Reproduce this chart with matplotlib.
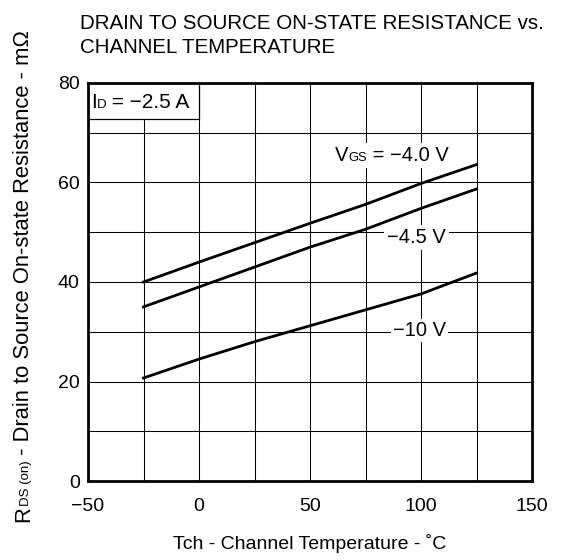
import matplotlib
matplotlib.use('Agg')
import matplotlib.pyplot as plt
from matplotlib.patches import Rectangle
from matplotlib.transforms import offset_copy

plt.rcParams['font.family'] = ['Liberation Sans', 'DejaVu Sans']

# channel temperature (deg C) and RDS(on) in mOhm
temp = [-25, 0, 25, 50, 75, 100, 125]
r_vgs_40 = [40.0, 44.0, 47.9, 51.8, 55.6, 59.8, 63.6]
r_vgs_45 = [35.0, 39.0, 43.0, 47.0, 50.6, 54.8, 58.7]
r_vgs_10 = [20.7, 24.5, 28.0, 31.2, 34.4, 37.6, 41.8]

x_ticks = [-50, 0, 50, 100, 150]
y_ticks = [0, 20, 40, 60, 80]
x_grid = [-25, 25, 75, 125]
y_grid = [10, 30, 50, 70]

fig = plt.figure(figsize=(5.61, 5.59), dpi=100)
ax = fig.add_axes([88 / 561, 78 / 559, 444 / 561, 398 / 559])
ax.set_xlim(-50, 150)
ax.set_ylim(0, 80)
ax.set_xticks(x_ticks)
ax.set_xticklabels([str(v).replace('-', '\u2212') for v in x_ticks])
ax.set_yticks(y_ticks)
ax.set_xticks(x_grid, minor=True)
ax.set_yticks(y_grid, minor=True)
ax.tick_params(which='both', length=0)
ax.tick_params(axis='x', labelsize=14, pad=12.5)
ax.tick_params(axis='y', labelsize=14, pad=6)
ax.grid(True, which='both', color='black', lw=0.75)
ax.set_axisbelow(True)
for sp in ax.spines.values():
    sp.set_linewidth(2)
    sp.set_zorder(6)

for r in (r_vgs_40, r_vgs_45, r_vgs_10):
    ax.plot(temp, r, color='black', lw=2, zorder=3)

renderer = fig.canvas.get_renderer()


def draw_pieces(owner, x, y, pieces, trans, rot=0):
    # lay out text pieces of different sizes on one baseline
    shift = 0.0
    out = []
    for s, fs in pieces:
        if rot:
            tr = offset_copy(trans, fig=fig, x=0, y=shift, units='dots')
        else:
            tr = offset_copy(trans, fig=fig, x=shift, y=0, units='dots')
        t = owner.text(x, y, s, fontsize=fs, transform=tr, rotation=rot,
                       rotation_mode='anchor', ha='left', va='baseline', zorder=5)
        bb = t.get_window_extent(renderer)
        shift += bb.height if rot else bb.width
        out.append(t)
    return out


def white_back(texts, pad=3):
    x0 = min(t.get_window_extent(renderer).x0 for t in texts) - pad
    x1 = max(t.get_window_extent(renderer).x1 for t in texts) + pad
    y0 = min(t.get_window_extent(renderer).y0 for t in texts) - pad
    y1 = max(t.get_window_extent(renderer).y1 for t in texts) + pad
    inv = ax.transData.inverted()
    (dx0, dy0), (dx1, dy1) = inv.transform([(x0, y0), (x1, y1)])
    ax.add_patch(Rectangle((dx0, dy0), dx1 - dx0, dy1 - dy0, facecolor='white',
                           edgecolor='none', zorder=4))


# I_D box in the upper left corner
ax.add_patch(Rectangle((-50, 72.8), 50, 7.2, facecolor='white', edgecolor='black',
                       lw=0.9, zorder=4))
draw_pieces(ax, -48.8, 75.0, [('I', 15), ('D', 9.5), (' = \u22122.5 A', 15)], ax.transData)

t1 = draw_pieces(ax, 61.3, 64.3, [('V', 14.5), ('GS', 9.3), (' = \u22124.0 V', 14.5)], ax.transData)
white_back(t1)
t2 = draw_pieces(ax, 84.7, 47.8, [('\u22124.5 V', 14.5)], ax.transData)
white_back(t2)
t3 = draw_pieces(ax, 87.4, 29.2, [('\u221210 V', 14.5)], ax.transData)
white_back(t3, pad=2)

# title, axis labels
fig.text(80 / 561, 1 - 29 / 559, 'DRAIN TO SOURCE ON-STATE RESISTANCE vs.',
         fontsize=14.8, va='baseline', ha='left')
fig.text(80 / 561, 1 - 53 / 559, 'CHANNEL TEMPERATURE',
         fontsize=14.8, va='baseline', ha='left')
fig.text(310 / 561, 1 - 549 / 559, 'Tch - Channel Temperature - \u02daC',
         fontsize=14, va='baseline', ha='center')
draw_pieces(fig, 29 / 561, 37 / 559,
            [('R', 15.8), ('DS (on)', 9.5), (' - Drain to Source On-state Resistance - m\u03a9', 15.8)],
            fig.transFigure, rot=90)

fig.savefig('out.png', dpi=100)
